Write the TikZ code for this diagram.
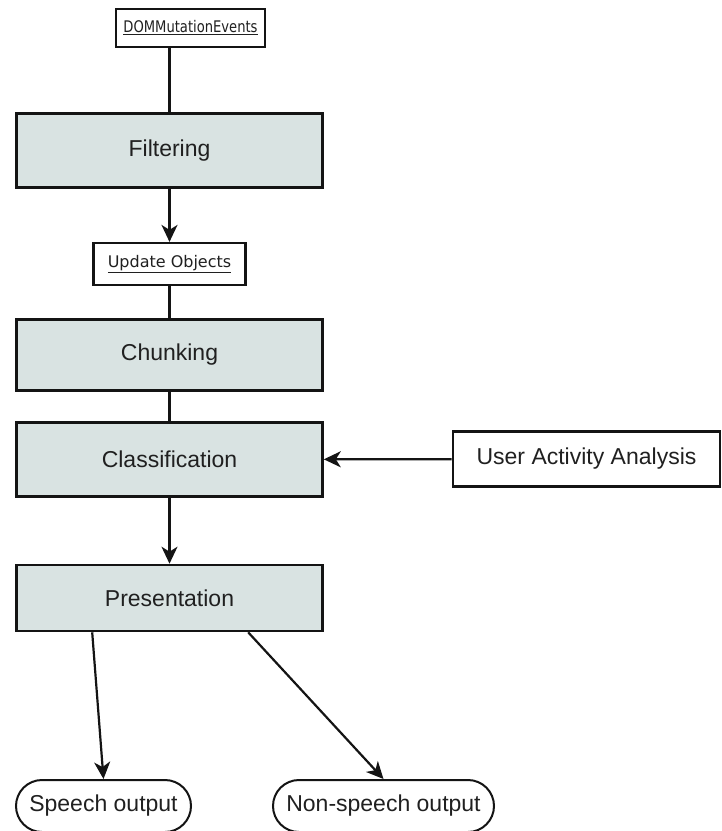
\documentclass[tikz,border=0pt]{standalone}
\usepackage{fontspec}
\setmainfont{Liberation Sans}
\newfontfamily\dejavu{DejaVu Sans}
\usepackage{graphicx}
\usepackage{xcolor}
\definecolor{clStage}{HTML}{D9E3E2}
\definecolor{clLine}{HTML}{141414}
\definecolor{clText}{HTML}{202020}
\usetikzlibrary{arrows.meta,calc}
\tikzset{
  box/.style={rectangle, draw=clLine, line width=2.6pt, align=center,
              inner sep=0pt, text=clText, font=\fontsize{23}{27}\selectfont},
  stage/.style={box, fill=clStage, minimum width=306pt},
  source/.style={box, fill=white},
  tag/.style={box, fill=white, line width=2.2pt, font=\dejavu\fontsize{16}{19}\selectfont},
  terminal/.style={box, line width=2pt, rounded corners=26pt, minimum height=52pt},
  flow/.style={-{Stealth[length=17pt,width=16pt,inset=5pt]}, line width=2.2pt, draw=clLine},
  link/.style={line width=2.2pt, draw=clLine},
}

\begin{document}
\begin{tikzpicture}[x=1pt, y=-1pt]
  \useasboundingbox (0,0) rectangle (722,831);
  \clip (0,0) rectangle (722,831);
  % pipeline stages
  \node[tag, minimum width=149pt, minimum height=38pt] (dom) at (190.5,28) {\scalebox{0.82}[1]{\underline{DOMMutationEvents}}};
  \node[stage, minimum height=74pt] (filt) at (169.5,150.5) {Filtering};
  \node[tag, minimum width=152pt, minimum height=42pt] (upd) at (169.5,264) {\underline{Update Objects}};
  \node[stage, minimum height=71pt] (chunk) at (169.5,355) {Chunking};
  \node[stage, minimum height=74pt] (cls) at (169.5,459.5) {Classification};
  \node[source, minimum width=267pt, minimum height=55pt] (uaa) at (586.5,459) {User Activity Analysis};
  \node[stage, minimum height=66pt] (pres) at (169.5,598) {Presentation};
  % outputs
  \node[terminal, minimum width=175pt] (spch) at (103.5,806) {Speech output};
  \node[terminal, minimum width=221pt] (nspch) at (383.5,806) {Non-speech output};
  \draw[link] (dom.south -| filt.north) -- (filt.north);
  \draw[flow] (filt.south) -- (upd.north);
  \draw[link] (upd) -- (chunk);
  \draw[link] (chunk) -- (cls);
  \draw[flow] (uaa) -- (cls);
  \draw[flow] (cls) -- (pres);
  \draw[flow] ($(pres.south west)+(77,0)$) -- (spch.north);
  \draw[flow] ($(pres.south west)+(233,0)$) -- (nspch.north);
\end{tikzpicture}
\end{document}
